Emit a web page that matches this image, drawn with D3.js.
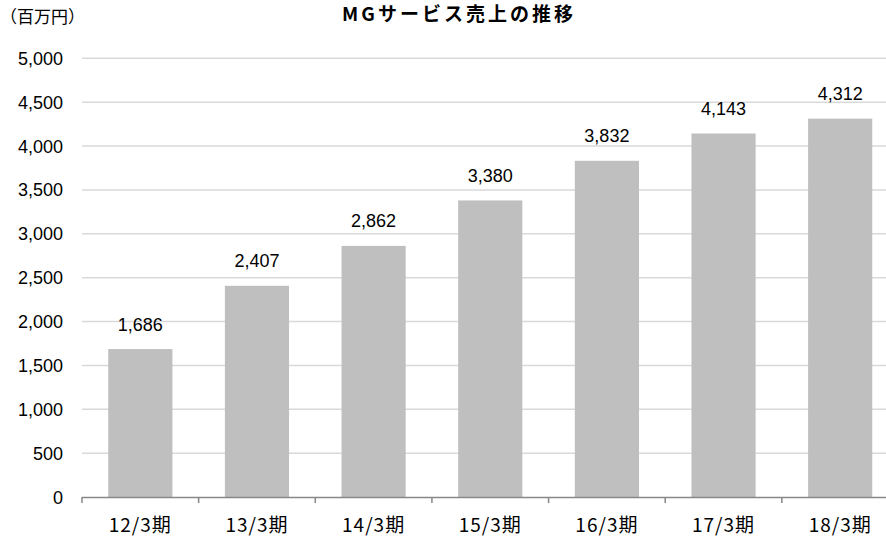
<!DOCTYPE html>
<html><head><meta charset="utf-8">
<script src="https://cdn.jsdelivr.net/npm/d3@7/dist/d3.min.js"></script>
<style>body{margin:0;background:#fff}svg{display:block}</style>
</head><body><svg id="c" width="886" height="539"></svg>
<script>
const categories = ["12/3期","13/3期","14/3期","15/3期","16/3期","17/3期","18/3期"];
const sales = [1686, 2407, 2862, 3380, 3832, 4143, 4312];
const yTicks = [0,500,1000,1500,2000,2500,3000,3500,4000,4500,5000];
const title = "MGサービス売上の推移";
const unit = "（百万円）";

const svg = d3.select("#c");
const font = "'Liberation Sans', Arial, 'Noto Sans CJK JP', sans-serif";
const x = d3.scaleBand().domain(categories).range([82, 898.5]).paddingInner(0.45).paddingOuter(0.225);
const y = d3.scaleLinear().domain([0,5000]).range([497, 58.3]);

// gridlines
svg.append("g").selectAll("line").data(yTicks.filter(d=>d>0)).join("line")
  .attr("x1",82).attr("x2",898.5).attr("y1",d=>y(d)).attr("y2",d=>y(d))
  .attr("stroke","#d9d9d9").attr("stroke-width",1.5);

// bars
svg.append("g").selectAll("rect").data(sales).join("rect")
  .attr("x",(d,i)=>x(categories[i])).attr("width",x.bandwidth())
  .attr("y",d=>y(d)).attr("height",d=>y(0)-y(d)).attr("fill","#bfbfbf");

// value labels
svg.append("g").selectAll("text").data(sales).join("text")
  .attr("x",(d,i)=>x(categories[i])+x.bandwidth()/2).attr("y",d=>y(d)-18.5)
  .attr("text-anchor","middle").attr("font-family",font).attr("font-size",18).attr("fill","#000")
  .text(d=>d3.format(",")(d));

// y axis labels
svg.append("g").selectAll("text").data(yTicks).join("text")
  .attr("x",63).attr("y",d=>y(d)+6.5).attr("text-anchor","end")
  .attr("font-family",font).attr("font-size",18).attr("fill","#000")
  .text(d=>d3.format(",")(d));

// x axis
const xa = svg.append("g");
xa.append("line").attr("x1",82).attr("x2",898.5).attr("y1",497.5).attr("y2",497.5).attr("stroke","#888").attr("stroke-width",1.5);
xa.selectAll("line.t").data(d3.range(8)).join("line").attr("class","t")
  .attr("x1",i=>82+i*(898.5-82)/7).attr("x2",i=>82+i*(898.5-82)/7)
  .attr("y1",497).attr("y2",503).attr("stroke","#888").attr("stroke-width",1.5);
xa.selectAll("text").data(categories).join("text")
  .attr("x",d=>x(d)+x.bandwidth()/2).attr("y",532).attr("text-anchor","middle")
  .attr("font-family","'Noto Sans CJK JP', sans-serif").attr("font-size",19).attr("letter-spacing",1).attr("fill","#000")
  .text(d=>d);

svg.append("text").attr("x",459).attr("y",21).attr("text-anchor","middle")
  .attr("font-family","'Noto Sans CJK JP', sans-serif").attr("font-weight","bold").attr("font-size",19).attr("letter-spacing",3).attr("fill","#000")
  .text(title);
svg.append("text").attr("x",0).attr("y",23)
  .attr("font-family","'Noto Sans CJK JP', sans-serif").attr("font-size",17).attr("fill","#000")
  .text(unit);
</script></body></html>
